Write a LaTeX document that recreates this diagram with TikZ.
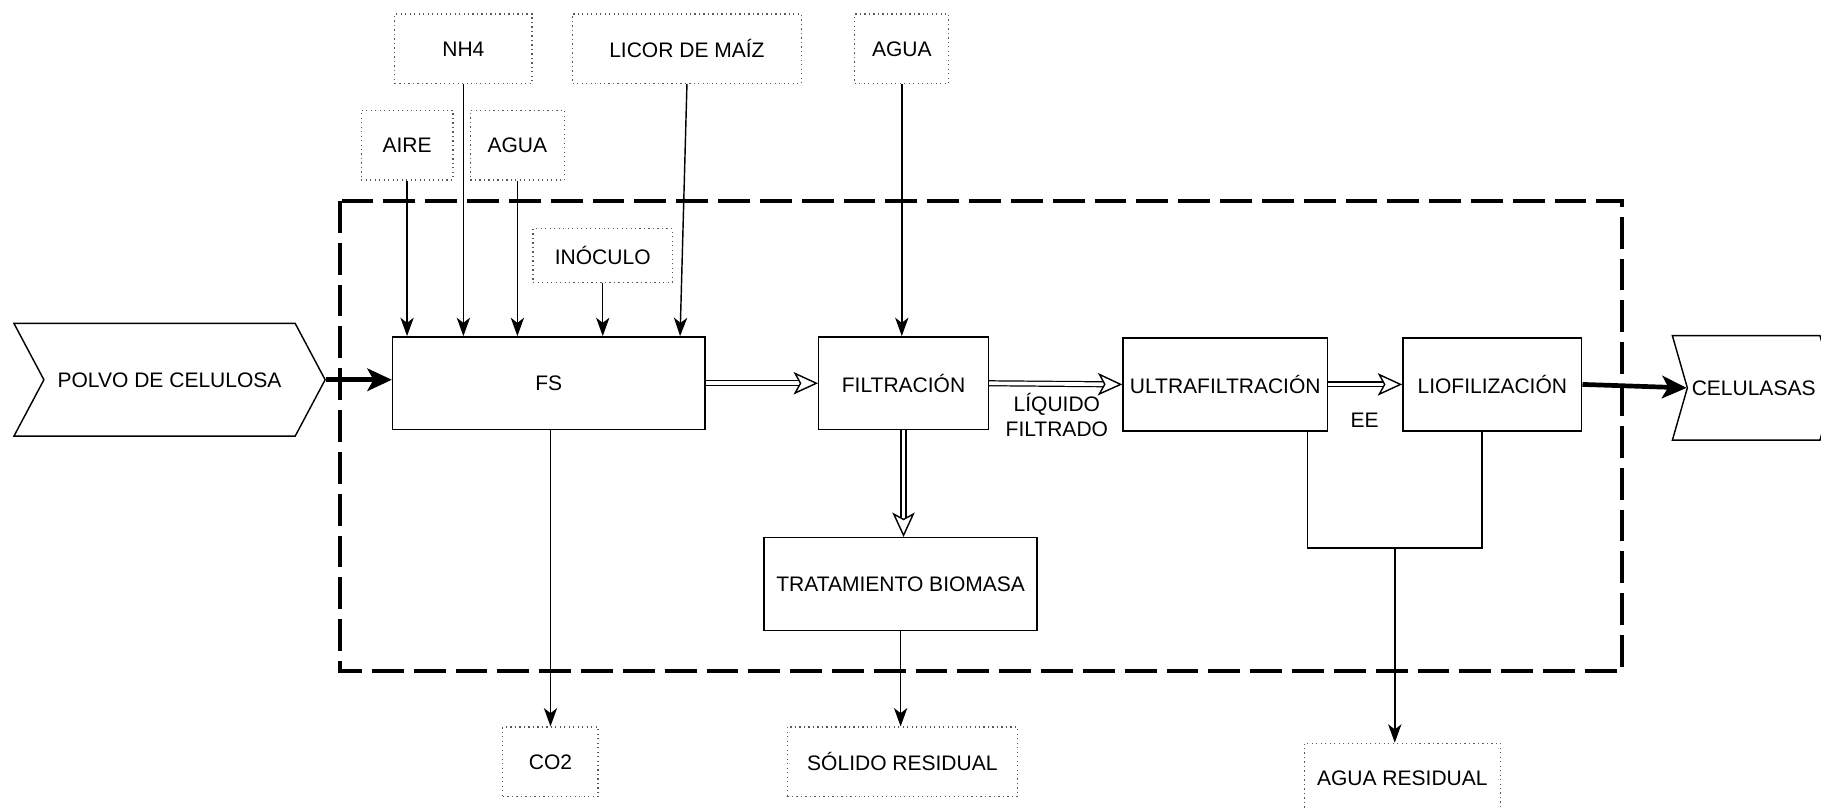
\documentclass[tikz,border=0pt]{standalone}
\usepackage{fontspec}
\setmainfont{Liberation Sans}
\usetikzlibrary{arrows.meta, positioning, shapes.symbols}

\begin{document}
\begin{tikzpicture} [x=0.02cm, y=-0.02cm,
            font=\fontsize{10.3pt}{12.2pt}\selectfont,
            line width=0.7pt]
            \tikzstyle{block}=[draw, rectangle, minimum height=1.6cm, inner sep=2pt]
            \tikzstyle{stream}=[draw=black!65, line width=0.6pt, dash pattern=on 0.6pt off 1.6pt,
                rectangle, minimum height=1.2cm, inner sep=2pt]
            \tikzstyle{inout}=[draw, signal, signal from=west, signal to=east, inner sep=0pt]
            \tikzstyle{flow}=[-{Stealth[length=9pt, width=6.5pt, inset=2.5pt]}]
            \tikzstyle{dflow}=[double, double distance=1.8pt, line width=0.6pt,
                -{Stealth[open, fill=white, line width=0.7pt, length=12pt, width=11pt, inset=3pt]}]
            \tikzstyle{bigflow}=[line width=2.3pt, -{Stealth[length=12pt, width=11pt, inset=3pt]}]

            \useasboundingbox (0,0) rectangle (1568,697);

            % Process boundary
            \draw [line width=1.9pt, dash pattern=on 15.6pt off 4.9pt]
                (293,173) rectangle (1397,578);

            % Input
            \node (polvo) [inout,
                signal pointer angle=124,
                minimum width=5.36cm,
                minimum height=1.94cm] at (146,327) {POLVO DE CELULOSA};

            % Unit FS
            \node (fs) [block,
                minimum width=5.38cm] at (472.5,330) {FS};

            % Unit filtracion
            \node (filt) [block,
                minimum width=2.92cm] at (778,330) {FILTRACIÓN};

            % Unit ultrafiltracion
            \node (ultra) [block,
                minimum width=3.52cm] at (1055,331) {ULTRAFILTRACIÓN};

            % Unit liofilizacion
            \node (lio) [block,
                minimum width=3.08cm] at (1285,331) {LIOFILIZACIÓN};

            % Unit biomasa
            \node (trat) [block,
                minimum width=4.7cm] at (775.5,503) {TRATAMIENTO BIOMASA};

            % Output
            \node (celul) [inout,
                signal pointer angle=148,
                minimum width=2.8cm,
                minimum height=1.8cm] at (1510,334) {CELULASAS};

            % Feed streams
            \node (nh4) [stream, minimum width=2.36cm] at (399,42) {NH4};
            \node (licor) [stream, minimum width=3.94cm] at (591.5,42) {LICOR DE MAÍZ};
            \node (agua2) [stream, minimum width=1.62cm] at (776.5,42) {AGUA};
            \node (aire) [stream, minimum width=1.58cm] at (350.5,125) {AIRE};
            \node (agua1) [stream, minimum width=1.62cm] at (445.5,125) {AGUA};
            \node (inoc) [stream, minimum width=2.4cm,
                minimum height=0.92cm] at (519,220) {INÓCULO};

            % Waste streams
            \node (co2) [stream, minimum width=1.64cm] at (474,656) {CO2};
            \node (solido) [stream, minimum width=3.96cm] at (777,656) {SÓLIDO RESIDUAL};
            \node (aguares) [stream, minimum width=3.38cm] at (1207.5,670) {AGUA RESIDUAL};

            % Labels
            \node (liq) [align=center] at (910,357) {LÍQUIDO\\FILTRADO};
            \node (ee) at (1175,362) {EE};

            \coordinate (merge) at (1201,472);

            % Arrows
            \draw [flow] (aire.south) -- (aire.south |- fs.north);
            \draw [flow] (nh4.south) -- (nh4.south |- fs.north);
            \draw [flow] (agua1.south) -- (agua1.south |- fs.north);
            \draw [flow] (inoc.south) -- (inoc.south |- fs.north);
            \draw [flow] (licor.south) -- ([xshift=-0.44cm]fs.north east);
            \draw [flow] (agua2.south) -- (agua2.south |- filt.north);
            \draw [flow] (co2.north |- fs.south) -- (co2.north);
            \draw [flow] (trat.south) -- (trat.south |- solido.north);
            \draw [flow] (merge) -- (merge |- aguares.north);
            \draw ([xshift=1.42cm]ultra.south) |- (merge) -| ([xshift=-0.18cm]lio.south);

            % Double arrows
            \draw [dflow] (fs.east) -- (filt.west);
            \draw [dflow] (filt.east) -- (ultra.west);
            \draw [dflow] (ultra.east) -- (lio.west);
            \draw [dflow] (filt.south) -- (filt.south |- trat.north);

            \draw [bigflow] (polvo.east) -- (polvo.east -| fs.west);
            \draw [bigflow] (lio.east) -- (celul.west);
        \end{tikzpicture}
\end{document}
